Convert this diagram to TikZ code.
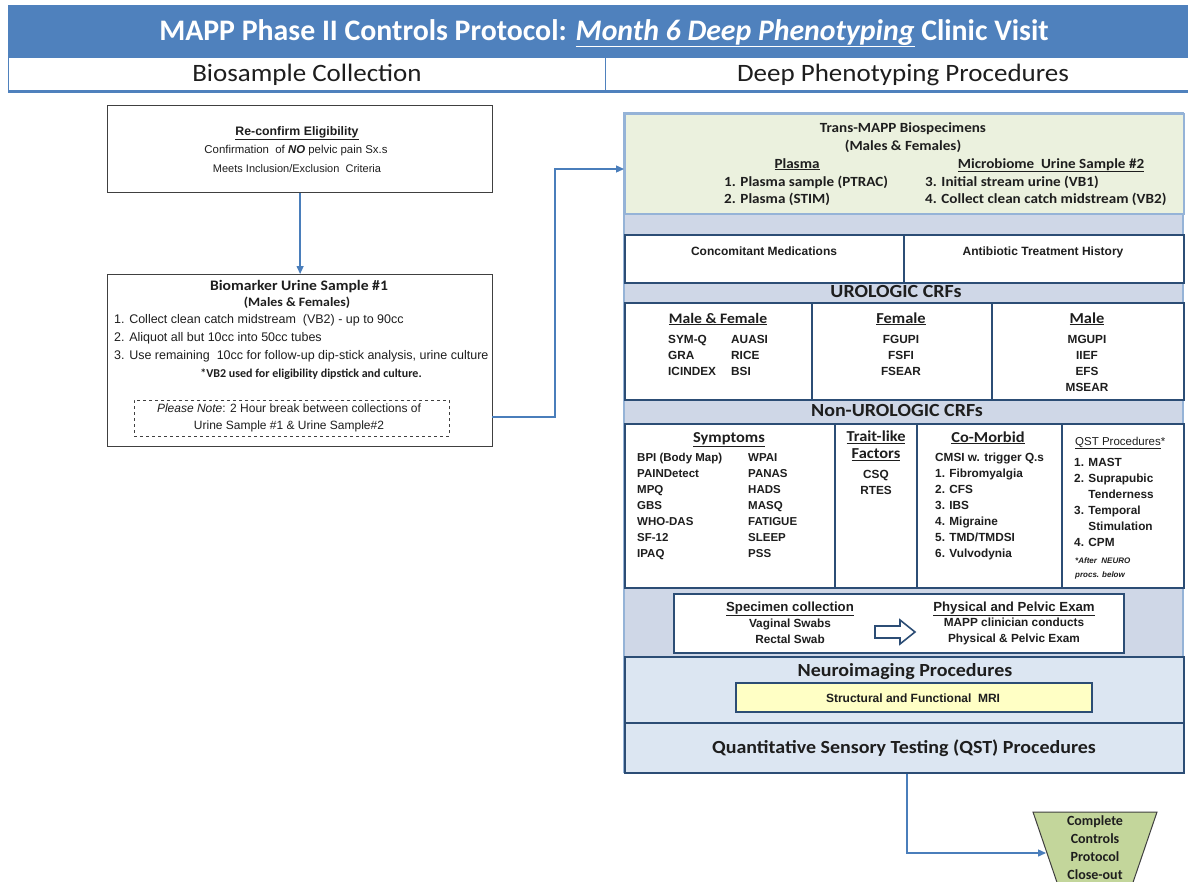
\documentclass[tikz,border=0pt]{standalone}
\usepackage{fontspec}
\setmainfont{Carlito}[FakeStretch=1.08]
\newfontfamily\ttlfont{Carlito}
\newfontfamily\nar{Liberation Sans}
\usetikzlibrary{arrows.meta,calc}
\definecolor{hdrblue}{HTML}{4F81BD}
\definecolor{band}{HTML}{CFD7E7}
\definecolor{dkblue}{HTML}{2C4D75}
\definecolor{ltblue}{HTML}{95B3D7}
\definecolor{greenfill}{HTML}{EBF1DE}
\definecolor{neurofill}{HTML}{DCE6F2}
\definecolor{yelfill}{HTML}{FFFFC5}
\definecolor{trapfill}{HTML}{C3D69B}
\definecolor{connc}{HTML}{4A7EBB}
\definecolor{txtc}{HTML}{1E1E1E}
\definecolor{boxgray}{HTML}{404040}
\tikzset{
  cell/.style={draw=dkblue, line width=2pt, fill=white, inner sep=0, anchor=north west},
  lbox/.style={draw=boxgray, line width=1.2pt, fill=white, inner sep=0, anchor=north west},
  tx/.style={inner sep=0, text=txtc, text height=0.85em, text depth=0.05em},
  mtx/.style={inner sep=0, text=txtc},
  nb/.style={tx, font=\nar\bfseries\fontsize{11.8}{16}\selectfont},
  nbm/.style={mtx, font=\nar\bfseries\fontsize{11.8}{16}\selectfont},
  cb/.style={tx, font=\bfseries\fontsize{14}{17}\selectfont},
  hb/.style={tx, font=\bfseries\fontsize{18.5}{20}\selectfont},
  chd/.style={tx, font=\bfseries\fontsize{15.2}{17}\selectfont},
  conn/.style={draw=connc, line width=1.3pt, -{Triangle[length=8pt,width=7pt]}},
}
\begin{document}
\begin{tikzpicture}[x=1pt,y=-1pt]
\useasboundingbox (0,0) rectangle (1188,881);
\fill[white] (0,0) rectangle (1188,881);

% ---------- header ----------
\node[fill=hdrblue, draw=hdrblue, inner sep=0, minimum width=1180, minimum height=52, anchor=north west] (hdr) at (8,5) {};
\node[tx, text=white, font=\ttlfont\bfseries\fontsize{29.8}{32}\selectfont] (ttl) at (604,36)
  {MAPP Phase II Controls Protocol: \underline{\textit{Month 6 Deep Phenotyping}} Clinic Visit};
\node[draw=hdrblue, line width=1pt, fill=white, inner sep=0, minimum width=597, minimum height=33, anchor=north west] (subl) at (8,57) {};
\node[draw=hdrblue, line width=1pt, fill=white, inner sep=0, minimum width=583, minimum height=33, anchor=north west] (subr) at (605,57) {};
\draw[hdrblue, line width=3pt] (subl.south west) -- (subr.south east);
\node[tx, font=\fontsize{25}{28}\selectfont] (subltx) at (307,77.5) {Biosample Collection};
\node[tx, font=\fontsize{25}{28}\selectfont] (subrtx) at (903,77.5) {Deep Phenotyping Procedures};

% ---------- left column ----------
\node[lbox, minimum width=385, minimum height=87] (b1) at (107,105) {};
\node[tx, font=\nar\bfseries\fontsize{12.3}{18}\selectfont] (rc1) at (297,131) {\underline{Re-confirm Eligibility}};
\node[tx, font=\nar\fontsize{11.4}{18}\selectfont] (rc2) at (296,149) {Confirmation\ \ of \textbf{\textit{NO}} pelvic pain Sx.s};
\node[tx, font=\nar\fontsize{11}{18}\selectfont] (rc3) at (297,168) {Meets Inclusion/Exclusion\ \ Criteria};

\node[lbox, minimum width=385, minimum height=172] (b2) at (107,274) {};
\node[tx, font=\bfseries\fontsize{14.5}{17}\selectfont] (bm1) at (299,286) {Biomarker Urine Sample \#1};
\node[tx, font=\bfseries\fontsize{12.8}{15}\selectfont] (bm2) at (297,302) {(Males \& Females)};
\node[mtx, font=\nar\fontsize{12.5}{18}\selectfont, align=left, anchor=west] (bm3) at (114,338) {1. Collect clean catch midstream\ \ (VB2) - up to 90cc\\
2. Aliquot all but 10cc into 50cc tubes\\
3. Use remaining\ \ 10cc for follow-up dip-stick analysis, urine culture};
\node[tx, font=\ttlfont\bfseries\fontsize{12}{15}\selectfont] (bm4) at (311,373) {*VB2 used for eligibility dipstick and culture.};
\node[draw=boxgray, dashed, line width=1pt, inner sep=0, minimum width=315, minimum height=36] (note) at (291.5,418) {};
\node[mtx, font=\nar\fontsize{12}{17}\selectfont, align=center] (notetx) at (289,418) {\textit{Please Note}: 2 Hour break between collections of\\ Urine Sample \#1 \& Urine Sample\#2};

% ---------- right column background ----------
\fill[band] (624,113) rectangle (1183,772);
\draw[ltblue, line width=1.5pt] (624,113) rectangle (1183,772);

% green box
\node[draw=ltblue, fill=greenfill, line width=1.5pt, inner sep=0, minimum width=559, minimum height=100, anchor=north west] (green) at (624,113) {};
\node[cb] (g1) at (903,128) {Trans-MAPP Biospecimens};
\node[cb] (g2) at (903,146) {(Males \& Females)};
\node[cb] (g3) at (797,164) {\underline{Plasma}};
\node[cb] (g4) at (1051,164) {\underline{Microbiome\ \ Urine Sample \#2}};
\node[mtx, font=\bfseries\fontsize{14}{17.5}\selectfont, align=left, anchor=west] (g5) at (724,191) {1. Plasma sample (PTRAC)\\2. Plasma (STIM)};
\node[mtx, font=\bfseries\fontsize{14}{17.5}\selectfont, align=left, anchor=west] (g6) at (925,191) {3. Initial stream urine\ (VB1)\\4. Collect clean catch midstream (VB2)};

% concomitant row
\node[cell, minimum width=279, minimum height=48] (cm) at (624,234) {};
\node[cell, minimum width=280, minimum height=48] (ab) at (903,234) {};
\node[tx, font=\nar\bfseries\fontsize{12}{16}\selectfont] (cmtx) at (764,251) {Concomitant Medications};
\node[tx, font=\nar\bfseries\fontsize{12}{16}\selectfont] (abtx) at (1043,251) {Antibiotic Treatment History};

% urologic
\node[hb] (uro) at (896,293) {UROLOGIC CRFs};
\node[cell, minimum width=187, minimum height=97] (mf) at (624,302) {};
\node[cell, minimum width=180, minimum height=97] (fe) at (811,302) {};
\node[cell, minimum width=192, minimum height=97] (ma) at (991,302) {};
\node[tx, font=\bfseries\fontsize{14.5}{17}\selectfont] (mfh) at (718,319) {\underline{Male \& Female}};
\node[nbm, align=left, anchor=west] (mfl) at (668,355) {SYM-Q\\GRA\\ICINDEX};
\node[nbm, align=left, anchor=west] (mfr) at (731,355) {AUASI\\RICE\\BSI};
\node[chd] (feh) at (901,319) {\underline{Female}};
\node[nbm, align=center] (fel) at (901,355) {FGUPI\\FSFI\\FSEAR};
\node[chd] (mah) at (1087,319) {\underline{Male}};
\node[nbm, align=center] (mal) at (1087,363) {MGUPI\\IIEF\\EFS\\MSEAR};

% non-urologic
\node[hb] (nuro) at (897,412) {Non-UROLOGIC CRFs};
\node[cell, minimum width=210, minimum height=164] (sy) at (624,423) {};
\node[cell, minimum width=82, minimum height=164] (tr) at (834,423) {};
\node[cell, minimum width=145, minimum height=164] (co) at (916,423) {};
\node[cell, minimum width=122, minimum height=164] (qp) at (1061,423) {};
\node[chd] (syh) at (729,438) {\underline{Symptoms}};
\node[nbm, font=\nar\bfseries\fontsize{11.5}{16}\selectfont, align=left, anchor=west] (syl) at (637,506) {BPI (Body Map)\\PAINDetect\\MPQ\\GBS\\WHO-DAS\\SF-12\\IPAQ};
\node[nbm, font=\nar\bfseries\fontsize{11.5}{16}\selectfont, align=left, anchor=west] (syr) at (748,506) {WPAI\\PANAS\\HADS\\MASQ\\FATIGUE\\SLEEP\\PSS};
\node[mtx, font=\bfseries\fontsize{15.2}{17}\selectfont, align=center] (trh) at (876,445.5) {\underline{Trait-like}\\\underline{Factors}};
\node[nbm, align=center] (trl) at (876,482.5) {CSQ\\RTES};
\node[chd] (coh) at (988,438) {\underline{Co-Morbid}};
\node[nbm, align=left, anchor=west] (col) at (935,506) {CMSI w. trigger Q.s\\1. Fibromyalgia\\2. CFS\\3. IBS\\4. Migraine\\5. TMD/TMDSI\\6. Vulvodynia};
\node[tx, font=\nar\fontsize{11.5}{14}\selectfont, anchor=west] (qph) at (1075,441) {\underline{QST Procedures}*};
\node[nbm, align=left, anchor=west] (qpl) at (1074,502) {1. MAST\\2. Suprapubic\\\phantom{2. }Tenderness\\3. Temporal\\\phantom{3. }Stimulation\\4. CPM};
\node[mtx, font=\nar\bfseries\itshape\fontsize{8}{14}\selectfont, align=left, anchor=west] (qpf) at (1075,568) {*After\ \ NEURO\\procs. below};

% specimen / exam
\node[cell, minimum width=450, minimum height=59] (spec) at (673,593) {};
\node[tx, font=\nar\bfseries\fontsize{13.2}{16}\selectfont] (sp1) at (790,607) {\underline{Specimen collection}};
\node[nbm, align=center] (sp2) at (790,631.5) {Vaginal Swabs\\Rectal Swab};
\node[tx, font=\nar\bfseries\fontsize{13.2}{16}\selectfont] (pe1) at (1014,607) {\underline{Physical and Pelvic Exam}};
\node[nbm, align=center] (pe2) at (1014,631.5) {MAPP clinician conducts\\Physical \& Pelvic Exam};
\draw[draw=dkblue, line width=1.6pt, fill=white] (875,626) -- (900,626) -- (900,620) -- (915,632) -- (900,644) -- (900,638) -- (875,638) -- cycle;

% neuroimaging
\node[cell, fill=neurofill, minimum width=559, minimum height=66] (neuro) at (624,656) {};
\node[hb] (neurotx) at (905,672) {Neuroimaging Procedures};
\node[cell, fill=yelfill, minimum width=356, minimum height=29] (mri) at (735,682) {};
\node[tx, font=\nar\bfseries\fontsize{12}{16}\selectfont] (mritx) at (913,698) {Structural and Functional\ \ MRI};

% QST
\node[cell, fill=neurofill, minimum width=559, minimum height=50] (qst) at (624,722) {};
\node[hb] (qsttx) at (904,749) {Quantitative Sensory Testing (QST) Procedures};

% close-out trapezoid
\draw[draw=boxgray, fill=trapfill, line width=1pt] (1033,812) -- (1157,812) -- (1127,900) -- (1063,900) -- cycle;
\node[mtx, font=\ttlfont\bfseries\fontsize{14}{18}\selectfont, align=center] (close) at (1095,847.5) {Complete\\Controls\\Protocol\\Close-out};
\coordinate (closein) at (1046,853);

% ---------- connectors ----------
\draw[conn] (b1.south) -- (b2.north);
\coordinate (b2out) at (492,417);
\coordinate (bend) at (555,169);
\draw[conn] (b2out) -| (bend) -- (green.west |- bend);
\draw[conn] ([xshift=2.5pt]qst.south) |- (closein);
\end{tikzpicture}
\end{document}
